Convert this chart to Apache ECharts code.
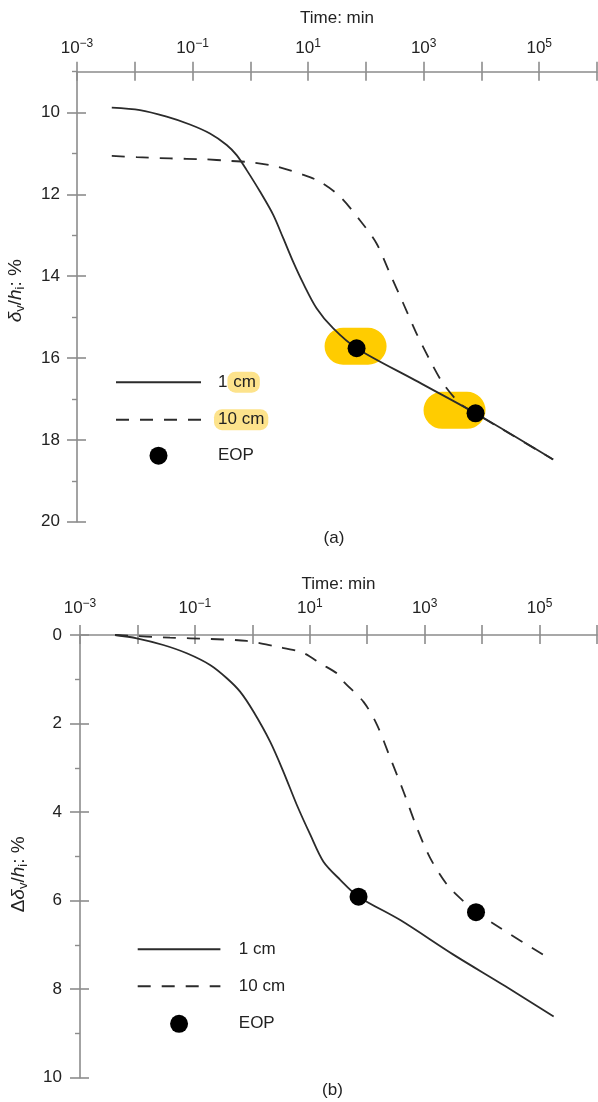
<!DOCTYPE html>
<html><head><meta charset="utf-8">
<style>html,body{margin:0;padding:0;background:#fff}#c{width:598px;height:1102px}</style>
<script src="https://cdn.jsdelivr.net/npm/echarts@6.0.0/dist/echarts.min.js"></script>
</head><body><div id="c"></div><script>
// ---------- data (time in min, strain in %) ----------
const timeA1 = [0.004, 0.0123, 0.0356, 0.09, 0.2, 0.39, 0.58, 0.86, 1.47, 2.49, 3.71, 5.52, 8.2, 14, 27, 69, 705, 7900, 174000];
const valA1  = [9.88, 9.94, 10.10, 10.29, 10.51, 10.79, 11.04, 11.40, 11.93, 12.50, 13.07, 13.65, 14.17, 14.78, 15.27, 15.76, 16.54, 17.35, 18.48];
const timeA10 = [0.004, 0.0108, 0.0407, 0.153, 0.444, 1.12, 2.85, 8.2, 16, 35.5, 78.7, 153, 260, 442, 753, 1280, 2170, 4230, 6820, 20000, 174000];
const valA10  = [11.06, 11.09, 11.12, 11.14, 11.18, 11.22, 11.32, 11.52, 11.69, 12.05, 12.63, 13.20, 13.93, 14.66, 15.40, 16.05, 16.62, 17.11, 17.30, 17.69, 18.48];
const eopTimeA = [69, 7900];
const eopValA  = [15.76, 17.35];

const timeB1 = [0.00407, 0.00973, 0.0282, 0.0723, 0.184, 0.36, 0.612, 1.045, 2.04, 3.48, 5.96, 10.2, 17.3, 33.9, 70.6, 376, 3160, 25100, 176000];
const valB1  = [0, 0.075, 0.226, 0.413, 0.677, 0.977, 1.28, 1.73, 2.41, 3.09, 3.84, 4.51, 5.12, 5.53, 5.91, 6.44, 7.22, 7.93, 8.62];
const timeB10 = [0.00407, 0.037, 0.184, 0.8, 2.67, 6.81, 10.2, 15.2, 29.6, 38.6, 86.3, 148, 252, 429, 735, 1250, 2450, 4780, 7830, 20700, 144000];
const valB10  = [0, 0.06, 0.09, 0.135, 0.264, 0.377, 0.49, 0.64, 0.865, 1.05, 1.51, 2.03, 2.78, 3.54, 4.36, 5.04, 5.64, 6.02, 6.26, 6.62, 7.30];
const eopTimeB = [70.6, 7830];
const eopValB  = [5.91, 6.26];

const seriesNames = ['1 cm', '10 cm', 'EOP'];
const xTickValues  = [0.001, 0.01, 0.1, 1, 10, 100, 1000, 10000, 100000, 1000000];
const xLabelValues = [0.001, 0.1, 10, 1000, 100000];
const yMajorA = [10, 12, 14, 16, 18, 20];
const yMinorA = [9, 11, 13, 15, 17, 19];
const yMajorB = [0, 2, 4, 6, 8, 10];
const yMinorB = [1, 3, 5, 7, 9];

// ---------- styles ----------
const FONT = '"Liberation Sans", Arial, Helvetica, sans-serif';
const AX = '#8c8c8c';
const INK = '#222';
const LINE = '#2b2b2b';
const DASH = [13, 11];
const PILL = 'path://M18.5,0 L43.5,0 A18.5,18.5 0 0 1 43.5,37 L18.5,37 A18.5,18.5 0 0 1 18.5,0 Z';
const pillOffsets = [[-1, -2], [-21, -3]];

function pairs(xs, ys) { return xs.map((x, i) => [x, ys[i]]); }
function supLabel(v) {
  const e = Math.round(Math.log10(v));
  return '{b|10}{s|' + (e < 0 ? '\u2212' + (-e) : String(e)) + '}';
}

const grids = [
  { left: 77, right: 1, top: 71.7, height: 450, outerBoundsMode: 'none' },
  { left: 80, right: 1, top: 635, height: 442.7, outerBoundsMode: 'none' }
];

function xAxesFor(g, labelMargin, nameGap) {
  const base = { type: 'log', logBase: 10, gridIndex: g, position: 'top', min: 0.001, max: 1000000, splitLine: { show: false }, minorTick: { show: false } };
  return [
    Object.assign({}, base, {
      name: 'Time: min', nameLocation: 'middle', nameGap: nameGap, nameMoveOverlap: false,
      nameTextStyle: { fontSize: 17, color: INK, fontFamily: FONT },
      axisLine: { show: true, lineStyle: { color: AX, width: 1.6 } },
      axisTick: { show: true, inside: false, length: 10, customValues: xTickValues, lineStyle: { color: AX, width: 1.6 } },
      axisLabel: {
        show: true, customValues: xLabelValues, formatter: supLabel, margin: labelMargin,
        color: INK, fontFamily: FONT,
        rich: { b: { fontSize: 17, color: INK, fontFamily: FONT }, s: { fontSize: 12, color: INK, fontFamily: FONT, padding: [0, 0, 9, 0] } }
      }
    }),
    Object.assign({}, base, {
      axisLine: { show: false }, axisLabel: { show: false },
      axisTick: { show: true, inside: true, length: 9, customValues: xTickValues, lineStyle: { color: AX, width: 1.6 } }
    })
  ];
}

function yAxesFor(g, min, max, majors, minors, nameText, nameGap, labelMargin, namePad) {
  const base = { type: 'value', gridIndex: g, position: 'left', inverse: true, min: min, max: max, splitLine: { show: false } };
  return [
    Object.assign({}, base, {
      name: nameText, nameLocation: 'middle', nameRotate: 90, nameGap: nameGap, nameMoveOverlap: false,
      nameTextStyle: {
        fontSize: 19, color: INK, fontFamily: FONT, padding: namePad,
        rich: {
          n: { fontSize: 19, color: INK, fontFamily: FONT },
          i: { fontSize: 19, color: INK, fontFamily: FONT, fontStyle: 'italic' },
          sub: { fontSize: 13, color: INK, fontFamily: FONT, padding: [9, 0, 0, 0] }
        }
      },
      axisLine: { show: true, lineStyle: { color: AX, width: 1.6 } },
      axisTick: { show: true, inside: false, length: 10, customValues: majors, lineStyle: { color: AX, width: 1.6 } },
      axisLabel: { show: true, customValues: majors, margin: labelMargin, fontSize: 17, color: INK, fontFamily: FONT }
    }),
    Object.assign({}, base, {
      axisLine: { show: false }, axisLabel: { show: false },
      axisTick: { show: true, inside: true, length: 9, customValues: majors, lineStyle: { color: AX, width: 1.6 } }
    }),
    Object.assign({}, base, {
      axisLine: { show: false }, axisLabel: { show: false },
      axisTick: { show: true, inside: false, length: 5, customValues: minors, lineStyle: { color: AX, width: 1.4 } }
    })
  ];
}

const xAxis = [].concat(xAxesFor(0, 13, 45), xAxesFor(1, 16, 42));
const yAxis = [].concat(
  yAxesFor(0, 9, 20, yMajorA, yMinorA, '{i|δ}{sub|v}{n|/}{i|h}{sub|i}{n|: %}', 50, 17, [0, 0, 0, 12]),
  yAxesFor(1, 0, 10, yMajorB, yMinorB, '{n|Δ}{i|δ}{sub|v}{n|/}{i|h}{sub|i}{n|: %}', 50, 18, [0, 36, 0, 0])
);

function chartSeries(xi, yi, t1, v1, t10, v10, te, ve) {
  return [
    { name: seriesNames[0], type: 'line', xAxisIndex: xi, yAxisIndex: yi, data: pairs(t1, v1), symbol: 'none', smooth: 0.3,
      lineStyle: { color: LINE, width: 1.8 }, itemStyle: { color: LINE }, z: 3, silent: true },
    { name: seriesNames[1], type: 'line', xAxisIndex: xi, yAxisIndex: yi, data: pairs(t10, v10), symbol: 'none', smooth: 0.3,
      lineStyle: { color: LINE, width: 1.8, type: DASH }, itemStyle: { color: LINE }, z: 3, silent: true },
    { name: seriesNames[2], type: 'scatter', xAxisIndex: xi, yAxisIndex: yi, data: pairs(te, ve), symbol: 'circle', symbolSize: 18,
      itemStyle: { color: '#000', opacity: 1 }, z: 4, silent: true }
  ];
}

const pillSeries = {
  name: 'highlight', type: 'scatter', xAxisIndex: 0, yAxisIndex: 0, symbol: PILL, symbolSize: [62, 37],
  data: pairs(eopTimeA, eopValA).map((p, i) => ({ value: p, symbolOffset: pillOffsets[i] })),
  itemStyle: { color: '#FFCC00', opacity: 1 }, z: 1, silent: true
};

const legendRich = {
  sp8: { width: 8 }, sp12: { width: 12 }, sp13: { width: 13.4 },
  t: { fontSize: 17, color: INK, fontFamily: FONT, lineHeight: 20 },
  h: { fontSize: 17, color: INK, fontFamily: FONT, lineHeight: 20, backgroundColor: '#FDE38C', borderRadius: 8, padding: [2, 4, 2, 1] },
  h2: { fontSize: 17, color: INK, fontFamily: FONT, lineHeight: 20, backgroundColor: '#FDE38C', borderRadius: 8, padding: [2, 4, 2, 4] }
};

// legend entries: hide the marker that ECharts adds on line icons
const legendData = seriesNames.map((n, i) => i < 2 ? { name: n, itemStyle: { opacity: 0 } } : { name: n, itemStyle: { opacity: 1, color: '#000' } });

const option = {
  backgroundColor: '#fff',
  animation: false,
  textStyle: { fontFamily: FONT },
  grid: grids,
  xAxis: xAxis,
  yAxis: yAxis,
  legend: [
    { data: legendData, orient: 'vertical', left: 115, top: 371.7, padding: 0, itemWidth: 85, itemHeight: 18, itemGap: 16.5, selectedMode: false,
      formatter: function (n) {
        if (n === '1 cm') return '{sp12| }{t|1}{h| cm}';
        if (n === '10 cm') return '{sp8| }{h2|10 cm}';
        return '{sp12| }{t|' + n + '}';
      },
      textStyle: { color: INK, fontSize: 17, fontFamily: FONT, rich: legendRich } },
    { data: legendData, orient: 'vertical', left: 136.7, top: 940.8, padding: 0, itemWidth: 82.7, itemHeight: 18, itemGap: 20, selectedMode: false,
      formatter: function (n) { return '{sp13| }{t|' + n + '}'; },
      textStyle: { color: INK, fontSize: 17, fontFamily: FONT, rich: legendRich } }
  ],
  graphic: [
    { type: 'text', x: 334, y: 538, style: { text: '(a)', fontSize: 17, fill: INK, fontFamily: FONT, textAlign: 'center', textVerticalAlign: 'middle' } },
    { type: 'text', x: 332.5, y: 1090, style: { text: '(b)', fontSize: 17, fill: INK, fontFamily: FONT, textAlign: 'center', textVerticalAlign: 'middle' } }
  ],
  series: [pillSeries].concat(
    chartSeries(0, 0, timeA1, valA1, timeA10, valA10, eopTimeA, eopValA),
    chartSeries(2, 3, timeB1, valB1, timeB10, valB10, eopTimeB, eopValB)
  )
};

const chart = echarts.init(document.getElementById('c'), null, { renderer: 'canvas', width: 598, height: 1102 });
chart.setOption(option);
</script></body></html>
